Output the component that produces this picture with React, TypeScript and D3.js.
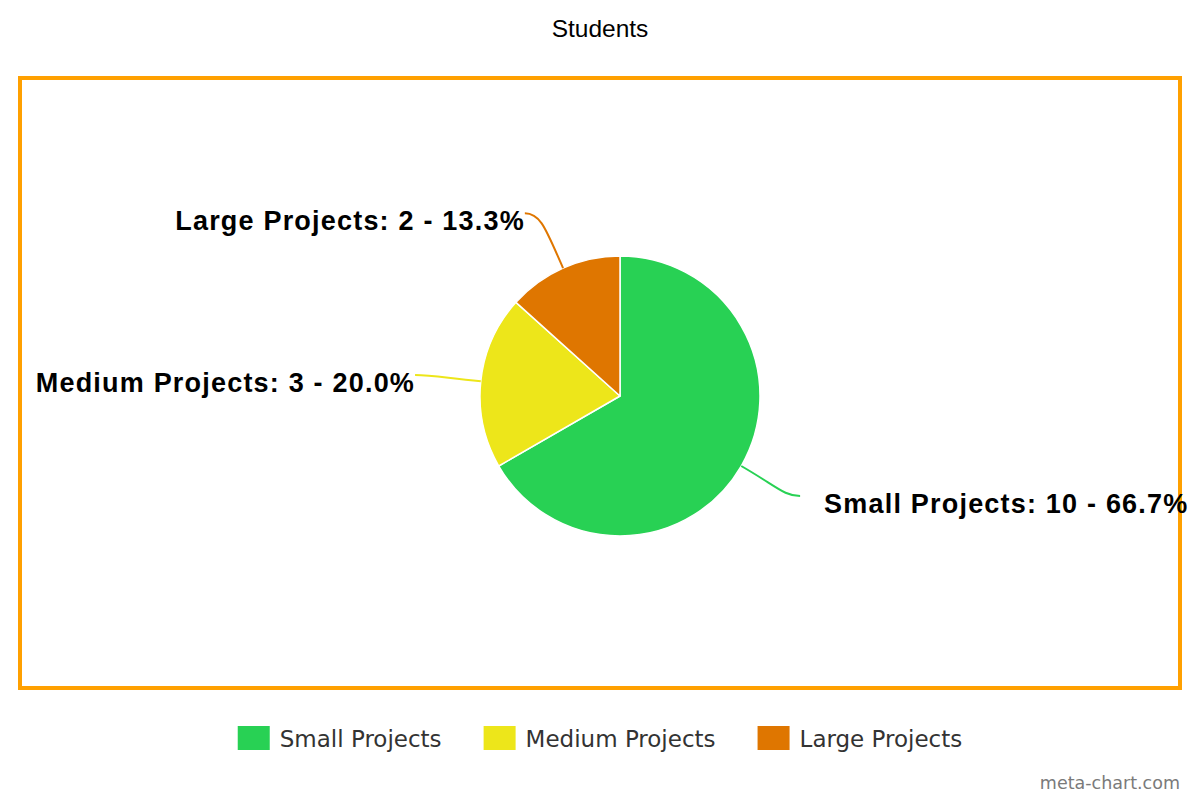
import React, { useEffect, useRef } from "react";
import * as d3 from "d3";

const title = "Students";
const categories = ["Small Projects", "Medium Projects", "Large Projects"];
const values = [10, 3, 2];
const colors = ["#28d154", "#ede61a", "#df7600"];
const watermark = "meta-chart.com";

const W = 1200;
const H = 800;

export default function App() {
  const ref = useRef<SVGSVGElement | null>(null);

  useEffect(() => {
    const svg = d3.select(ref.current);
    svg.selectAll("*").remove();

    // title
    svg
      .append("text")
      .attr("x", 600)
      .attr("y", 37)
      .attr("text-anchor", "middle")
      .attr("font-family", "Liberation Sans, Arial, sans-serif")
      .attr("font-size", 24.5)
      .attr("fill", "#000")
      .text(title);

    // frame
    svg
      .append("rect")
      .attr("x", 20)
      .attr("y", 78)
      .attr("width", 1160)
      .attr("height", 610)
      .attr("fill", "none")
      .attr("stroke", "#ffa000")
      .attr("stroke-width", 4);

    const cx = 620;
    const cy = 396;
    const r = 140;
    const total = d3.sum(values);
    const data = categories.map((c, i) => ({ name: c, value: values[i], color: colors[i] }));

    const pie = d3
      .pie<any>()
      .value((d: any) => d.value)
      .sort(null);
    const arcs = pie(data);
    const arc = d3.arc<any>().innerRadius(0).outerRadius(r);

    const g = svg.append("g").attr("transform", `translate(${cx},${cy})`);
    g.selectAll("path.slice")
      .data(arcs)
      .enter()
      .append("path")
      .attr("class", "slice")
      .attr("d", arc as any)
      .attr("fill", (d: any) => d.data.color)
      .attr("stroke", "#fff")
      .attr("stroke-width", 1.5)
      .attr("stroke-linejoin", "round");

    // connectors + labels (label x follows a circle of radius R at the label's y)
    const R = 206;
    const Ry = 200;
    arcs.forEach((a: any) => {
      const mid = (a.startAngle + a.endAngle) / 2;
      const sx = Math.sin(mid);
      const cyy = -Math.cos(mid);
      const right = sx > 0;
      const S = [sx * r, cyy * r];
      const ey = cyy * Ry;
      const ex = (right ? 1 : -1) * Math.sqrt(R * R - ey * ey);
      const E = [ex, ey];
      const C1 = [sx * (r + 42), cyy * (r + 42)];
      const C2 = [E[0] + (right ? -16 : 16), E[1]];
      g.append("path")
        .attr(
          "d",
          `M${S[0]},${S[1]} C${C1[0]},${C1[1]} ${C2[0]},${C2[1]} ${E[0]},${E[1]}`
        )
        .attr("fill", "none")
        .attr("stroke", a.data.color)
        .attr("stroke-width", 2);
      const pct = ((a.data.value / total) * 100).toFixed(1);
      g.append("text")
        .attr("x", right ? E[0] + 24 : E[0])
        .attr("y", E[1] + 17)
        .attr("text-anchor", right ? "start" : "end")
        .attr("font-family", "Liberation Sans, Arial, sans-serif")
        .attr("font-weight", "bold")
        .attr("font-size", 27)
        .attr("letter-spacing", 1.2)
        .attr("fill", "#000")
        .text(`${a.data.name}: ${a.data.value} - ${pct}%`);
    });

    // legend
    const lg = svg.append("g");
    let x = 0;
    data.forEach((d) => {
      const it = lg.append("g");
      it.append("rect")
        .attr("x", 0)
        .attr("y", 726)
        .attr("width", 32)
        .attr("height", 24)
        .attr("fill", d.color);
      const t = it
        .append("text")
        .attr("x", 42)
        .attr("y", 747)
        .attr("font-family", "DejaVu Sans, sans-serif")
        .attr("font-size", 23)
        .attr("fill", "#333")
        .text(d.name);
      const tw = (t.node() as SVGTextElement).getComputedTextLength();
      it.attr("transform", `translate(${x},0)`);
      x += 42 + tw + 42;
    });
    const totalW = x - 42;
    lg.attr("transform", `translate(${600 - totalW / 2},0)`);

    // watermark
    svg
      .append("text")
      .attr("x", 1180)
      .attr("y", 789)
      .attr("text-anchor", "end")
      .attr("font-family", "DejaVu Sans, sans-serif")
      .attr("font-size", 17.5)
      .attr("fill", "#7a7a7a")
      .text(watermark);
  }, []);

  return (
    <svg
      ref={ref}
      width={W}
      height={H}
      style={{ position: "absolute", left: 0, top: 0, background: "#fff" }}
    />
  );
}
